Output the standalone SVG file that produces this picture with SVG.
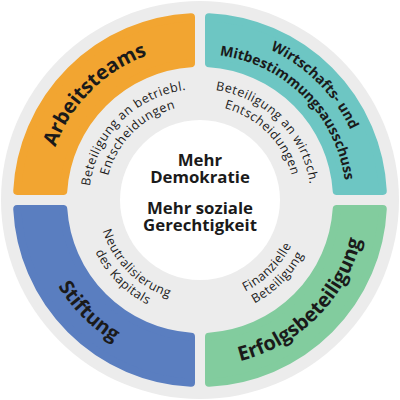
<svg xmlns="http://www.w3.org/2000/svg" xmlns:xlink="http://www.w3.org/1999/xlink" width="400" height="400" viewBox="0 0 400 400">
<style>
.seg{stroke-width:8;stroke-linejoin:round}
.big{font-family:"Open Sans","Noto Sans","DejaVu Sans",sans-serif;font-weight:700;font-size:20px;fill:#1a1a1a}
.mid{font-family:"Open Sans","Noto Sans","DejaVu Sans",sans-serif;font-weight:700;font-size:14px;fill:#1a1a1a}
.sm{font-family:"Open Sans","Noto Sans","DejaVu Sans",sans-serif;font-weight:400;font-size:12.5px;fill:#1a1a1a;letter-spacing:0.5px}
.ctr{font-family:"Open Sans","Noto Sans","DejaVu Sans",sans-serif;font-weight:700;font-size:16.8px;fill:#1a1a1a;text-anchor:middle}
</style>
<defs>
<path id="tl154" d="M73.85,288.33 A154,154 0 0 1 288.33,73.85"/>
<path id="tl111" d="M109.07,263.67 A111,111 0 0 1 263.67,109.07"/>
<path id="tl95" d="M122.18,254.49 A95,95 0 0 1 254.49,122.18"/>
<path id="tr166" d="M104.79,64.02 A166,166 0 0 1 335.98,295.21"/>
<path id="tr146" d="M116.26,80.40 A146,146 0 0 1 319.60,283.74"/>
<path id="tr111" d="M136.33,109.07 A111,111 0 0 1 290.93,263.67"/>
<path id="tr95" d="M145.51,122.18 A95,95 0 0 1 277.82,254.49"/>
<path id="br166" d="M104.79,335.98 A166,166 0 0 0 335.98,104.79"/>
<path id="br102" d="M141.49,283.55 A102,102 0 0 0 283.55,141.49"/>
<path id="br117" d="M132.89,295.84 A117,117 0 0 0 295.84,132.89"/>
<path id="bl166" d="M64.02,104.79 A166,166 0 0 0 295.21,335.98"/>
<path id="bl102" d="M116.45,141.49 A102,102 0 0 0 258.51,283.55"/>
<path id="bl117" d="M104.16,132.89 A117,117 0 0 0 267.11,295.84"/>
</defs>
<circle cx="200" cy="200" r="199" fill="#ececec"/>
<circle cx="200" cy="200" r="80" fill="#ffffff"/>
<g id="arbeitsteams">
<path class="seg" fill="#f2a531" stroke="#f2a531" d="M191,17.22 A183,183 0 0 0 17.22,191 L63.30,191 A137,137 0 0 1 191,63.30 Z"/>
<text class="big" text-anchor="middle"><textPath xlink:href="#tl154" href="#tl154" startOffset="50%">Arbeitsteams</textPath></text>
<text class="sm" text-anchor="middle"><textPath xlink:href="#tl111" href="#tl111" startOffset="50%">Beteiligung an betriebl.</textPath></text>
<text class="sm" text-anchor="middle"><textPath xlink:href="#tl95" href="#tl95" startOffset="50%">Entscheidungen</textPath></text>
</g>
<g id="wirtschaftsausschuss">
<path class="seg" fill="#6dc6c3" stroke="#6dc6c3" d="M209,17.22 A183,183 0 0 1 382.78,191 L336.70,191 A137,137 0 0 0 209,63.30 Z"/>
<text class="mid" text-anchor="middle"><textPath xlink:href="#tr166" href="#tr166" startOffset="50%">Wirtschafts- und</textPath></text>
<text class="mid" text-anchor="middle"><textPath xlink:href="#tr146" href="#tr146" startOffset="50%">Mitbestimmungsausschuss</textPath></text>
<text class="sm" text-anchor="middle"><textPath xlink:href="#tr111" href="#tr111" startOffset="50%">Beteiligung an wirtsch.</textPath></text>
<text class="sm" text-anchor="middle"><textPath xlink:href="#tr95" href="#tr95" startOffset="50%">Entscheidungen</textPath></text>
</g>
<g id="erfolgsbeteiligung">
<path class="seg" fill="#82cc9e" stroke="#82cc9e" d="M382.78,209 A183,183 0 0 1 209,382.78 L209,336.70 A137,137 0 0 0 336.70,209 Z"/>
<text class="big" text-anchor="middle"><textPath xlink:href="#br166" href="#br166" startOffset="50%">Erfolgsbeteiligung</textPath></text>
<text class="sm" text-anchor="middle"><textPath xlink:href="#br102" href="#br102" startOffset="50%">Finanzielle</textPath></text>
<text class="sm" text-anchor="middle"><textPath xlink:href="#br117" href="#br117" startOffset="50%">Beteiligung</textPath></text>
</g>
<g id="stiftung">
<path class="seg" fill="#5a7ec0" stroke="#5a7ec0" d="M191,382.78 A183,183 0 0 1 17.22,209 L63.30,209 A137,137 0 0 0 191,336.70 Z"/>
<text class="big" text-anchor="middle"><textPath xlink:href="#bl166" href="#bl166" startOffset="50%">Stiftung</textPath></text>
<text class="sm" text-anchor="middle"><textPath xlink:href="#bl102" href="#bl102" startOffset="50%">Neutralisierung</textPath></text>
<text class="sm" text-anchor="middle"><textPath xlink:href="#bl117" href="#bl117" startOffset="50%">des Kapitals</textPath></text>
</g>
<g id="zentrum">
<text class="ctr" x="200" y="166">Mehr</text>
<text class="ctr" x="200" y="183">Demokratie</text>
<text class="ctr" x="200" y="214">Mehr soziale</text>
<text class="ctr" x="200" y="231">Gerechtigkeit</text>
</g>
<g id="connectors"></g>
</svg>
